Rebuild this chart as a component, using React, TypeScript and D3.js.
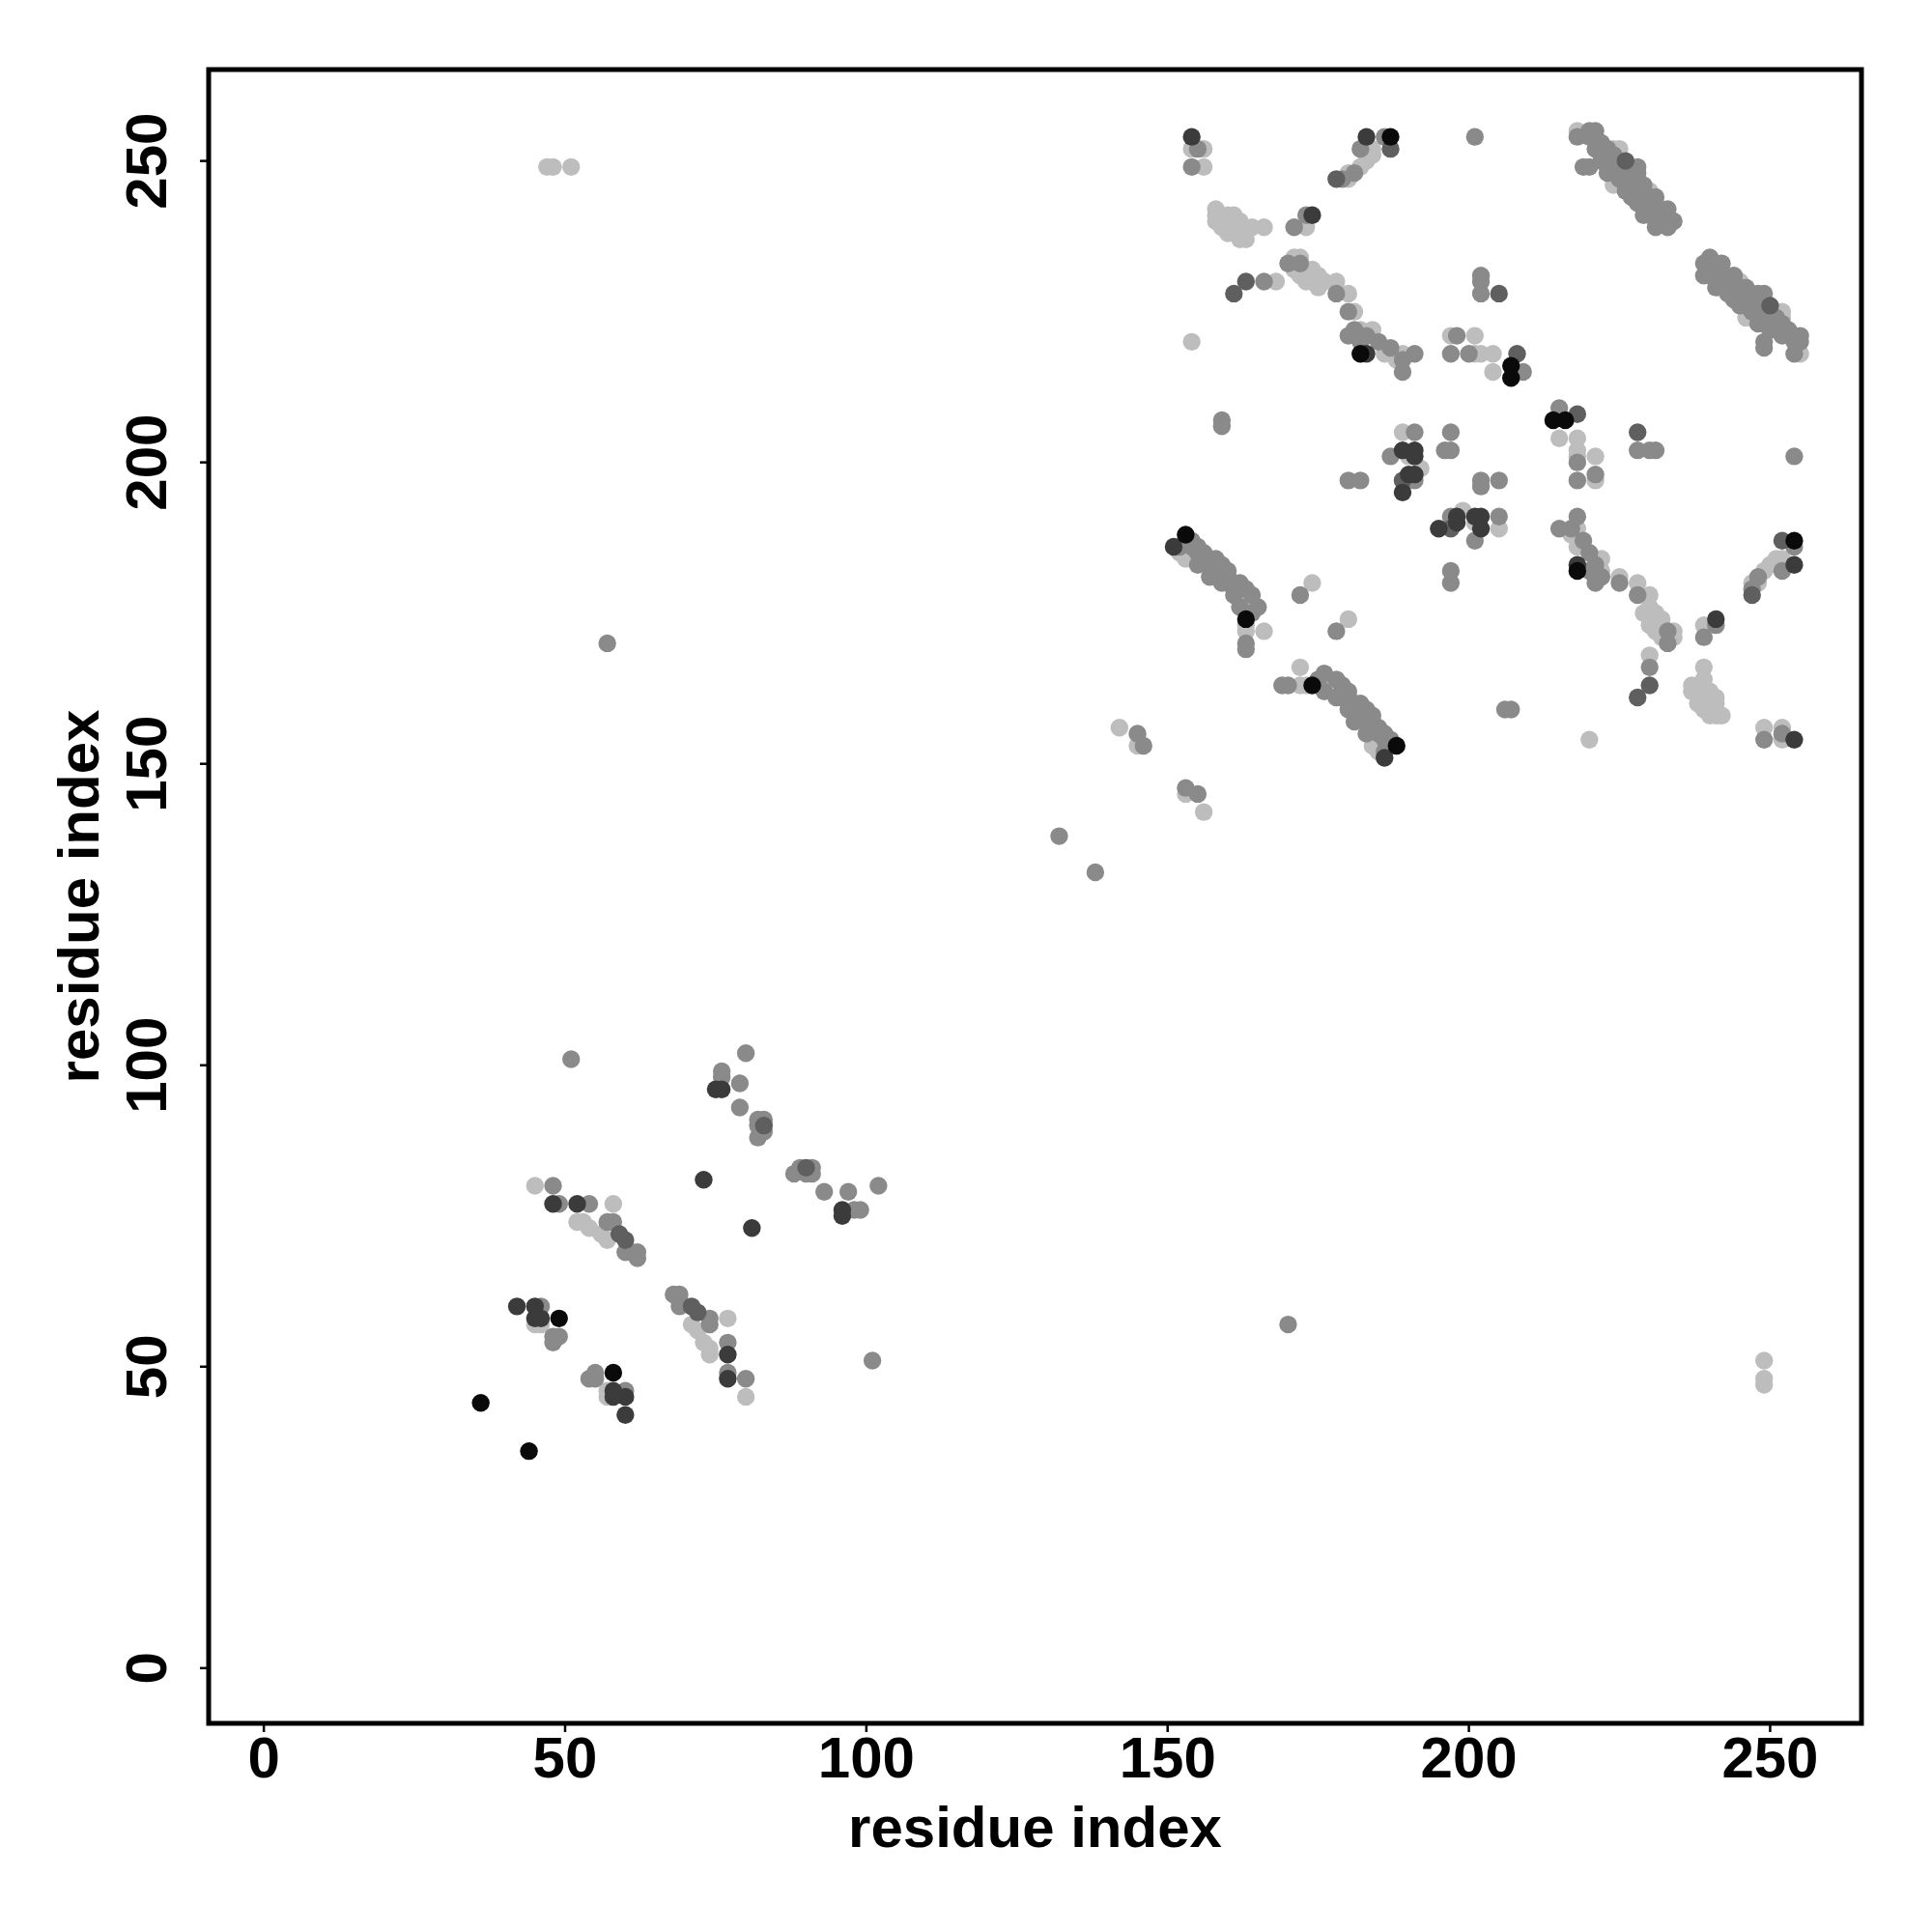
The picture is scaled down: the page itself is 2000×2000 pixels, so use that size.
import React from "react";
import * as d3 from "d3";

// Contact pairs (i < j), grouped by shade; the map is symmetric so each pair is drawn twice.
const blackPairs: [number, number][] = [
  [36, 44], [49, 58], [153, 188], [163, 174], [187, 254], [182, 218], [207, 216], [207, 214],
];

const darkPairs: [number, number][] = [
  [42, 60], [45, 60], [45, 58], [46, 58], [48, 77], [52, 77], [73, 81], [75, 96], [76, 96],
  [151, 186], [154, 254], [183, 254], [183, 218], [174, 241], [189, 202], [191, 202], [191, 201],
  [190, 198], [191, 198], [189, 195],
];

const darkMedPairs: [number, number][] = [
  [59, 72], [60, 71], [83, 90], [161, 228], [163, 230], [178, 247], [187, 252], [205, 228],
  [208, 218], [189, 197], [226, 250],
];

const medPairs: [number, number][] = [
  [46, 60], [48, 54], [48, 55], [49, 55], [48, 80], [49, 77], [54, 77], [57, 74], [58, 74],
  [60, 69], [61, 69], [62, 69], [62, 68], [76, 98], [76, 99], [79, 97], [80, 102], [79, 93],
  [82, 91], [83, 91], [82, 88], [83, 89], [82, 90], [51, 101], [57, 170],
  [132, 138], [145, 155], [146, 153],
  [152, 186], [154, 187], [155, 186], [154, 186], [155, 185], [156, 184], [157, 184], [157, 183],
  [158, 183], [158, 182], [159, 182], [160, 181], [160, 180], [161, 180], [161, 179], [162, 179],
  [162, 176], [163, 170], [163, 169], [172, 178],
  [153, 187], [156, 185], [158, 184], [159, 183], [160, 182], [162, 180], [163, 179], [164, 178],
  [165, 176], [155, 183], [157, 181], [159, 180], [161, 178], [164, 175],
  [180, 197], [182, 197], [187, 201], [196, 202], [197, 202], [191, 205], [197, 205], [191, 197],
  [159, 207], [159, 206],
  [155, 252], [154, 249], [166, 230], [171, 239], [173, 241], [179, 247], [181, 248], [182, 252],
  [186, 254], [201, 254], [202, 231], [202, 230], [202, 228], [180, 221], [181, 222], [182, 220],
  [185, 220], [187, 219], [189, 217], [191, 218], [178, 228], [180, 225], [198, 221], [197, 218],
  [200, 218], [209, 215], [170, 233], [172, 233], [189, 215], [183, 221],
  [220, 255], [221, 255], [218, 254], [220, 254], [221, 254], [221, 252], [222, 252], [220, 249],
  [219, 249], [222, 250], [223, 249], [225, 248], [225, 247], [226, 246], [228, 248], [228, 247],
  [227, 245], [227, 244], [229, 244], [228, 243], [229, 241], [230, 242], [231, 241], [231, 239],
  [234, 240], [233, 239], [232, 241], [222, 253], [223, 252], [224, 251], [226, 248], [228, 249],
  [230, 244],
  [222, 251], [223, 250], [224, 249], [226, 247], [227, 246], [228, 245], [230, 243], [231, 242],
  [223, 248], [226, 245], [230, 241], [225, 250], [227, 248], [229, 246], [231, 244], [233, 242],
];

const lightPairs: [number, number][] = [
  [45, 57], [46, 57], [45, 80], [52, 74], [53, 74], [54, 73], [58, 77], [56, 72], [57, 71],
  [47, 249], [48, 249], [51, 249],
  [142, 156], [145, 153],
  [152, 185], [153, 184], [163, 178], [164, 176], [163, 173], [163, 172], [166, 172], [174, 180],
  [189, 205], [190, 201], [192, 199],
  [154, 252], [156, 252], [156, 249], [154, 220], [158, 242], [158, 241], [160, 241], [161, 241],
  [160, 238], [162, 239], [163, 237], [162, 237], [161, 239], [166, 239], [164, 239], [162, 240],
  [159, 239], [158, 240], [168, 230], [173, 239], [178, 230], [180, 228], [181, 225], [182, 222],
  [184, 222], [186, 218], [188, 217], [189, 218], [180, 247], [180, 248], [182, 249], [183, 250],
  [184, 251], [184, 252], [197, 221], [201, 221], [201, 218], [202, 218], [204, 218], [204, 215],
  [171, 234], [171, 232], [172, 231], [173, 232], [173, 230], [174, 232], [174, 230], [175, 231],
  [176, 230], [175, 229], [172, 234],
  [218, 255], [224, 252], [225, 252], [224, 246], [230, 245], [232, 242],
];

const tickValues = [0, 50, 100, 150, 200, 250];
const axisTitle = "residue index";

const groups = [
  { pairs: lightPairs, color: "#bdbdbd" },
  { pairs: medPairs, color: "#8a8a8a" },
  { pairs: darkMedPairs, color: "#5f5f5f" },
  { pairs: darkPairs, color: "#3b3b3b" },
  { pairs: blackPairs, color: "#0a0a0a" },
];

export default function App() {
  const left = 216, right = 1927, top = 72, bottom = 1784;
  const x = d3.scaleLinear().domain([-9.16, 265.16]).range([left, right]);
  const y = d3.scaleLinear().domain([-9.16, 265.16]).range([bottom, top]);
  const font = "'Liberation Sans', Arial, Helvetica, sans-serif";

  return (
    <svg width={2000} height={2000} style={{ position: "absolute", left: 0, top: 0, background: "#fff" }}>
      <rect x={0} y={0} width={2000} height={2000} fill="#fff" />
      {groups.map((g, gi) => (
        <g key={gi} fill={g.color}>
          {g.pairs.flatMap(([i, j], k) => [
            <circle key={`a${k}`} cx={x(i)} cy={y(j)} r={9.2} />,
            <circle key={`b${k}`} cx={x(j)} cy={y(i)} r={9.2} />,
          ])}
        </g>
      ))}
      <rect x={left} y={top} width={right - left} height={bottom - top} fill="none" stroke="#000" strokeWidth={5} />
      {tickValues.map((v) => (
        <g key={`xt${v}`}>
          <line x1={x(v)} x2={x(v)} y1={bottom} y2={bottom + 9} stroke="#000" strokeWidth={2.5} />
          <text x={x(v)} y={1840} textAnchor="middle" fontFamily={font} fontWeight="bold" fontSize={60}>{v}</text>
        </g>
      ))}
      {tickValues.map((v) => (
        <g key={`yt${v}`}>
          <line x1={left - 9} x2={left} y1={y(v)} y2={y(v)} stroke="#000" strokeWidth={2.5} />
          <text transform={`translate(172,${y(v)}) rotate(-90)`} textAnchor="middle" fontFamily={font} fontWeight="bold" fontSize={60}>{v}</text>
        </g>
      ))}
      <text x={(left + right) / 2} y={1912} textAnchor="middle" fontFamily={font} fontWeight="bold" fontSize={60}>{axisTitle}</text>
      <text transform={`translate(102,${(top + bottom) / 2}) rotate(-90)`} textAnchor="middle" fontFamily={font} fontWeight="bold" fontSize={60}>{axisTitle}</text>
    </svg>
  );
}
